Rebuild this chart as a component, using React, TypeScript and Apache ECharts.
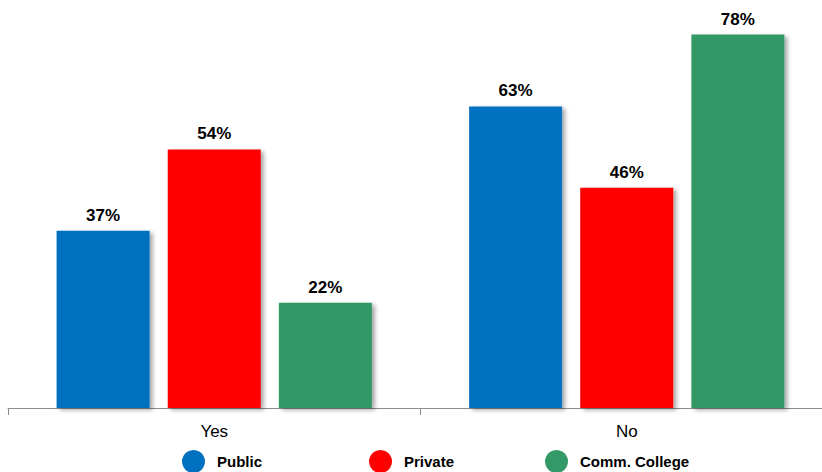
import React, { useEffect, useRef } from "react";
import * as echarts from "echarts";

const categories = ["Yes", "No"];
const seriesNames = ["Public", "Private", "Comm. College"];
const publicValues = [37, 63];
const privateValues = [54, 46];
const commCollegeValues = [22, 78];
const colors = ["#0070C0", "#FF0000", "#339966"];

const FONT = "'Liberation Sans', Arial, sans-serif";

export default function App() {
  const ref = useRef<HTMLDivElement>(null);
  useEffect(() => {
    if (!ref.current) return;
    const chart = echarts.init(ref.current, undefined, { renderer: "svg" });
    const values = [publicValues, privateValues, commCollegeValues];
    const legendLefts = [177, 364, 540];
    chart.setOption({
      animation: false,
      backgroundColor: "#ffffff",
      grid: { left: 8, top: 25, width: 825, height: 383, containLabel: false },
      xAxis: {
        type: "category",
        data: categories,
        axisLine: { show: true, lineStyle: { color: "#8c8c8c", width: 1 } },
        axisTick: { show: true, length: 7, lineStyle: { color: "#8c8c8c" } },
        axisLabel: { color: "#000", fontSize: 17, fontFamily: FONT, margin: 15 },
      },
      yAxis: {
        type: "value",
        min: 0,
        max: 80,
        show: false,
        splitLine: { show: false },
      },
      legend: seriesNames.map((n, i) => ({
        data: [n],
        left: legendLefts[i],
        top: 445,
        icon: "circle",
        itemWidth: 23,
        itemHeight: 23,
        itemGap: 10,
        textStyle: {
          color: "#000",
          fontSize: 15,
          fontWeight: "bold",
          fontFamily: FONT,
          padding: [0, 0, 0, 7],
        },
      })),
      series: seriesNames.map((n, i) => ({
        name: n,
        type: "bar",
        data: values[i],
        barWidth: 93,
        barGap: "19.5%",
        itemStyle: {
          color: colors[i],
          shadowColor: "rgba(0,0,0,0.35)",
          shadowBlur: 4,
          shadowOffsetX: 3,
          shadowOffsetY: 2,
        },
        label: {
          show: true,
          position: "top",
          distance: 7,
          formatter: "{c}%",
          color: "#000",
          fontSize: 17,
          fontWeight: "bold",
          fontFamily: FONT,
        },
      })),
    });
    return () => chart.dispose();
  }, []);
  return (
    <div
      style={{ position: "absolute", left: 0, top: 0, width: 822, height: 472, overflow: "hidden" }}
    >
      <div ref={ref} style={{ width: 836, height: 472 }} />
    </div>
  );
}
